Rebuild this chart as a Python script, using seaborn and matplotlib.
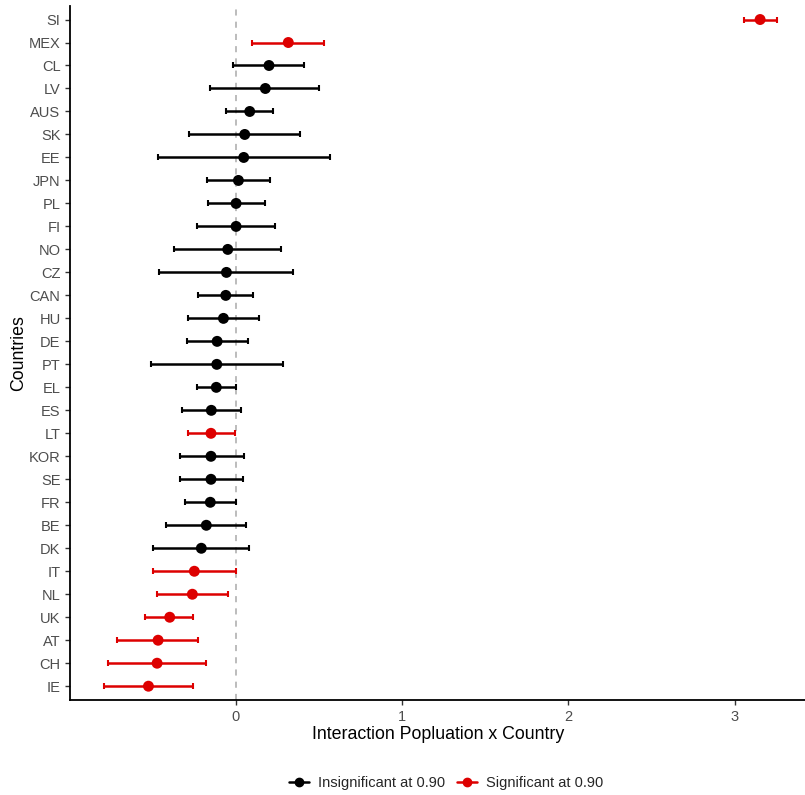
import pandas as pd
import seaborn as sns
import matplotlib.pyplot as plt
from matplotlib.lines import Line2D

# values read top -> bottom as they appear in the chart
countries = ['SI', 'MEX', 'CL', 'LV', 'AUS', 'SK', 'EE', 'JPN', 'PL', 'FI',
             'NO', 'CZ', 'CAN', 'HU', 'DE', 'PT', 'EL', 'ES', 'LT', 'KOR',
             'SE', 'FR', 'BE', 'DK', 'IT', 'NL', 'UK', 'AT', 'CH', 'IE']
estimate = [3.153, 0.316, 0.200, 0.178, 0.084, 0.054, 0.048, 0.016, 0.002, 0.002,
            -0.048, -0.056, -0.060, -0.074, -0.112, -0.114, -0.117, -0.147, -0.149, -0.149,
            -0.149, -0.153, -0.177, -0.207, -0.249, -0.261, -0.397, -0.467, -0.473, -0.525]
lower = [3.058, 0.096, -0.018, -0.155, -0.056, -0.279, -0.467, -0.173, -0.168, -0.233,
         -0.371, -0.463, -0.227, -0.289, -0.295, -0.507, -0.233, -0.321, -0.285, -0.337,
         -0.337, -0.305, -0.417, -0.495, -0.497, -0.475, -0.543, -0.712, -0.766, -0.792]
upper = [3.253, 0.531, 0.413, 0.503, 0.224, 0.389, 0.565, 0.204, 0.174, 0.236,
         0.272, 0.346, 0.106, 0.138, 0.072, 0.283, 0.002, 0.030, -0.002, 0.048,
         0.046, 0.000, 0.062, 0.082, 0.000, -0.046, -0.257, -0.225, -0.179, -0.259]
significant = [True, True, False, False, False, False, False, False, False, False,
               False, False, False, False, False, False, False, False, True, False,
               False, False, False, False, True, True, True, True, True, True]

df = pd.DataFrame({'country': countries, 'est': estimate, 'lo': lower, 'hi': upper,
                   'sig': significant})
df['group'] = df['sig'].map({True: 'Significant at 0.90', False: 'Insignificant at 0.90'})
df = df.iloc[::-1].reset_index(drop=True)  # bottom of the chart first

colors = {'Insignificant at 0.90': 'black', 'Significant at 0.90': '#DD0000'}

sns.set_style('white')
plt.rcParams['font.family'] = ['Liberation Sans', 'DejaVu Sans']

fig = plt.figure(figsize=(8.05, 7.95), dpi=100)
ax = fig.add_axes([0.0873, 0.1195, 0.9127, 0.8733])

ax.axvline(0, color='#AAAAAA', linestyle=(0, (4, 4)), lw=1.1, zorder=0)

# points first so the category order on y follows the data frame
sns.scatterplot(data=df, x='est', y='country', hue='group', palette=colors,
                s=62, edgecolor='none', legend=False, ax=ax, zorder=3)

# confidence intervals
for grp, sub in df.groupby('group'):
    ax.errorbar(x=sub['est'], y=sub['country'],
                xerr=[sub['est'] - sub['lo'], sub['hi'] - sub['est']],
                fmt='none', ecolor=colors[grp], elinewidth=1.8, capsize=2.5,
                capthick=1.5, zorder=2)

ax.set_xlim(-0.995, 3.423)
ax.set_ylim(-0.6, len(countries) - 0.4)
ax.set_xticks([0, 1, 2, 3])
ax.set_xticklabels(['0', '1', '2', '3'])

ax.set_xlabel('Interaction Popluation x Country', fontsize=12.8, color='black', labelpad=2)
ax.set_ylabel('Countries', fontsize=12.8, color='black', labelpad=1)
ax.tick_params(axis='both', labelsize=10.5, labelcolor='#4D4D4D', length=3.5,
               width=1, color='#333333', bottom=True, left=True)

for side in ['top', 'right']:
    ax.spines[side].set_visible(False)
for side in ['left', 'bottom']:
    ax.spines[side].set_color('black')
    ax.spines[side].set_linewidth(1.3)

handles = [Line2D([0], [0], color=c, marker='o', markersize=6, lw=1.8, label=g)
           for g, c in colors.items()]
fig.legend(handles=handles, loc='center', bbox_to_anchor=(446 / 805, 12 / 795),
           ncol=2, frameon=False, fontsize=10.5, handlelength=1.4,
           handletextpad=0.6, columnspacing=0.8)

fig.savefig('out.png', dpi=100)
